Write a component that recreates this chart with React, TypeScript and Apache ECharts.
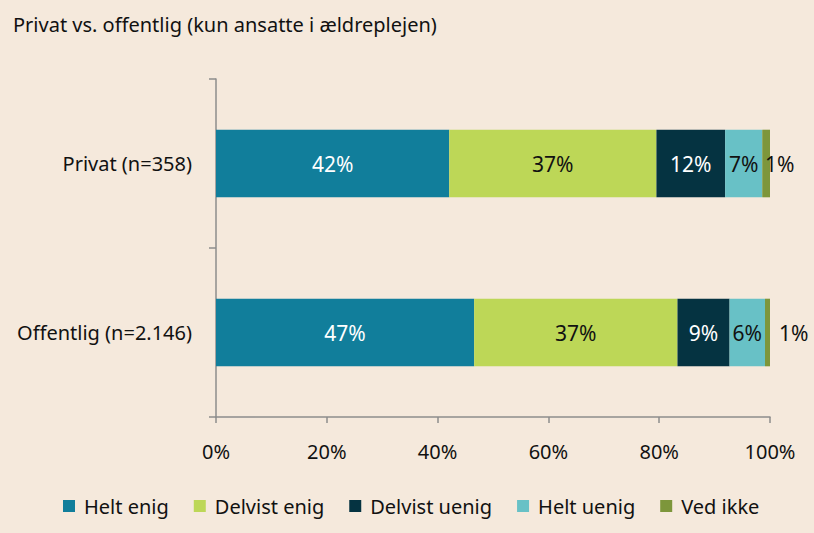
import React, { useEffect, useRef } from "react";
import * as echarts from "echarts";

const categories = ["Privat (n=358)", "Offentlig (n=2.146)"];
const seriesNames = ["Helt enig", "Delvist enig", "Delvist uenig", "Helt uenig", "Ved ikke"];
const heltEnig = [42.1, 46.6];
const delvistEnig = [37.4, 36.7];
const delvistUenig = [12.4, 9.4];
const heltUenig = [6.7, 6.4];
const vedIkke = [1.4, 0.9];
const xTicks = [0, 20, 40, 60, 80, 100];

const colors = ["#117e9b", "#bdd757", "#053341", "#68c1c6", "#7d963b"];
const labelColors = ["#ffffff", "#111111", "#ffffff", "#111111", "#111111"];
const FONT = "'Noto Sans', 'Open Sans', sans-serif";
const FS = 20;

export default function App() {
  const ref = useRef<HTMLDivElement>(null);
  useEffect(() => {
    if (!ref.current) return;
    const chart = echarts.init(ref.current, null, { renderer: "svg" });
    const values = [heltEnig, delvistEnig, delvistUenig, heltUenig, vedIkke];
    const series = values.map((arr, i) => ({
      name: seriesNames[i],
      type: "bar",
      stack: "total",
      barWidth: "40%",
      itemStyle: { color: colors[i] },
      label: {
        show: true,
        position: "inside",
        color: labelColors[i],
        fontSize: 21,
        fontFamily: FONT,
        formatter: (p: any) => Math.round(p.value) + "%",
      },
      data:
        i === 4
          ? arr.map((v, j) => ({
              value: v,
              label: { position: "right", distance: j === 0 ? -5 : 9 },
            }))
          : arr,
    }));
    chart.setOption({
      animation: false,
      backgroundColor: "#f5e9dc",
      color: colors,
      title: {
        text: "Privat vs. offentlig (kun ansatte i ældreplejen)",
        left: 8,
        top: 9,
        textStyle: { fontSize: FS, fontWeight: "normal", color: "#111", fontFamily: FONT },
      },
      grid: { left: 216, right: 44, top: 79, bottom: 116, containLabel: false },
      legend: {
        top: 491,
        left: 58,
        itemWidth: 12,
        itemHeight: 12,
        itemGap: 25,
        icon: "rect",
        textStyle: { fontSize: FS, color: "#111", fontFamily: FONT, padding: [0, 0, 0, 4] },
        data: seriesNames,
      },
      xAxis: {
        type: "value",
        min: xTicks[0],
        max: xTicks[xTicks.length - 1],
        interval: 20,
        axisLine: { show: true, lineStyle: { color: "#8c8c8c", width: 1.5 } },
        axisTick: { show: true, length: 6, lineStyle: { color: "#8c8c8c", width: 1.5 } },
        splitLine: { show: false },
        axisLabel: {
          margin: 24,
          fontSize: FS,
          color: "#111",
          fontFamily: FONT,
          formatter: "{value}%",
        },
      },
      yAxis: {
        type: "category",
        inverse: true,
        data: categories,
        axisLine: { show: true, lineStyle: { color: "#8c8c8c", width: 1.5 } },
        axisTick: { show: true, length: 7, alignWithLabel: false, lineStyle: { color: "#8c8c8c", width: 1.5 } },
        axisLabel: { margin: 24, fontSize: FS, color: "#111", fontFamily: FONT },
      },
      series,
    });
    return () => chart.dispose();
  }, []);
  return (
    <div
      ref={ref}
      style={{ position: "fixed", left: 0, top: 0, width: 814, height: 533 }}
    />
  );
}
